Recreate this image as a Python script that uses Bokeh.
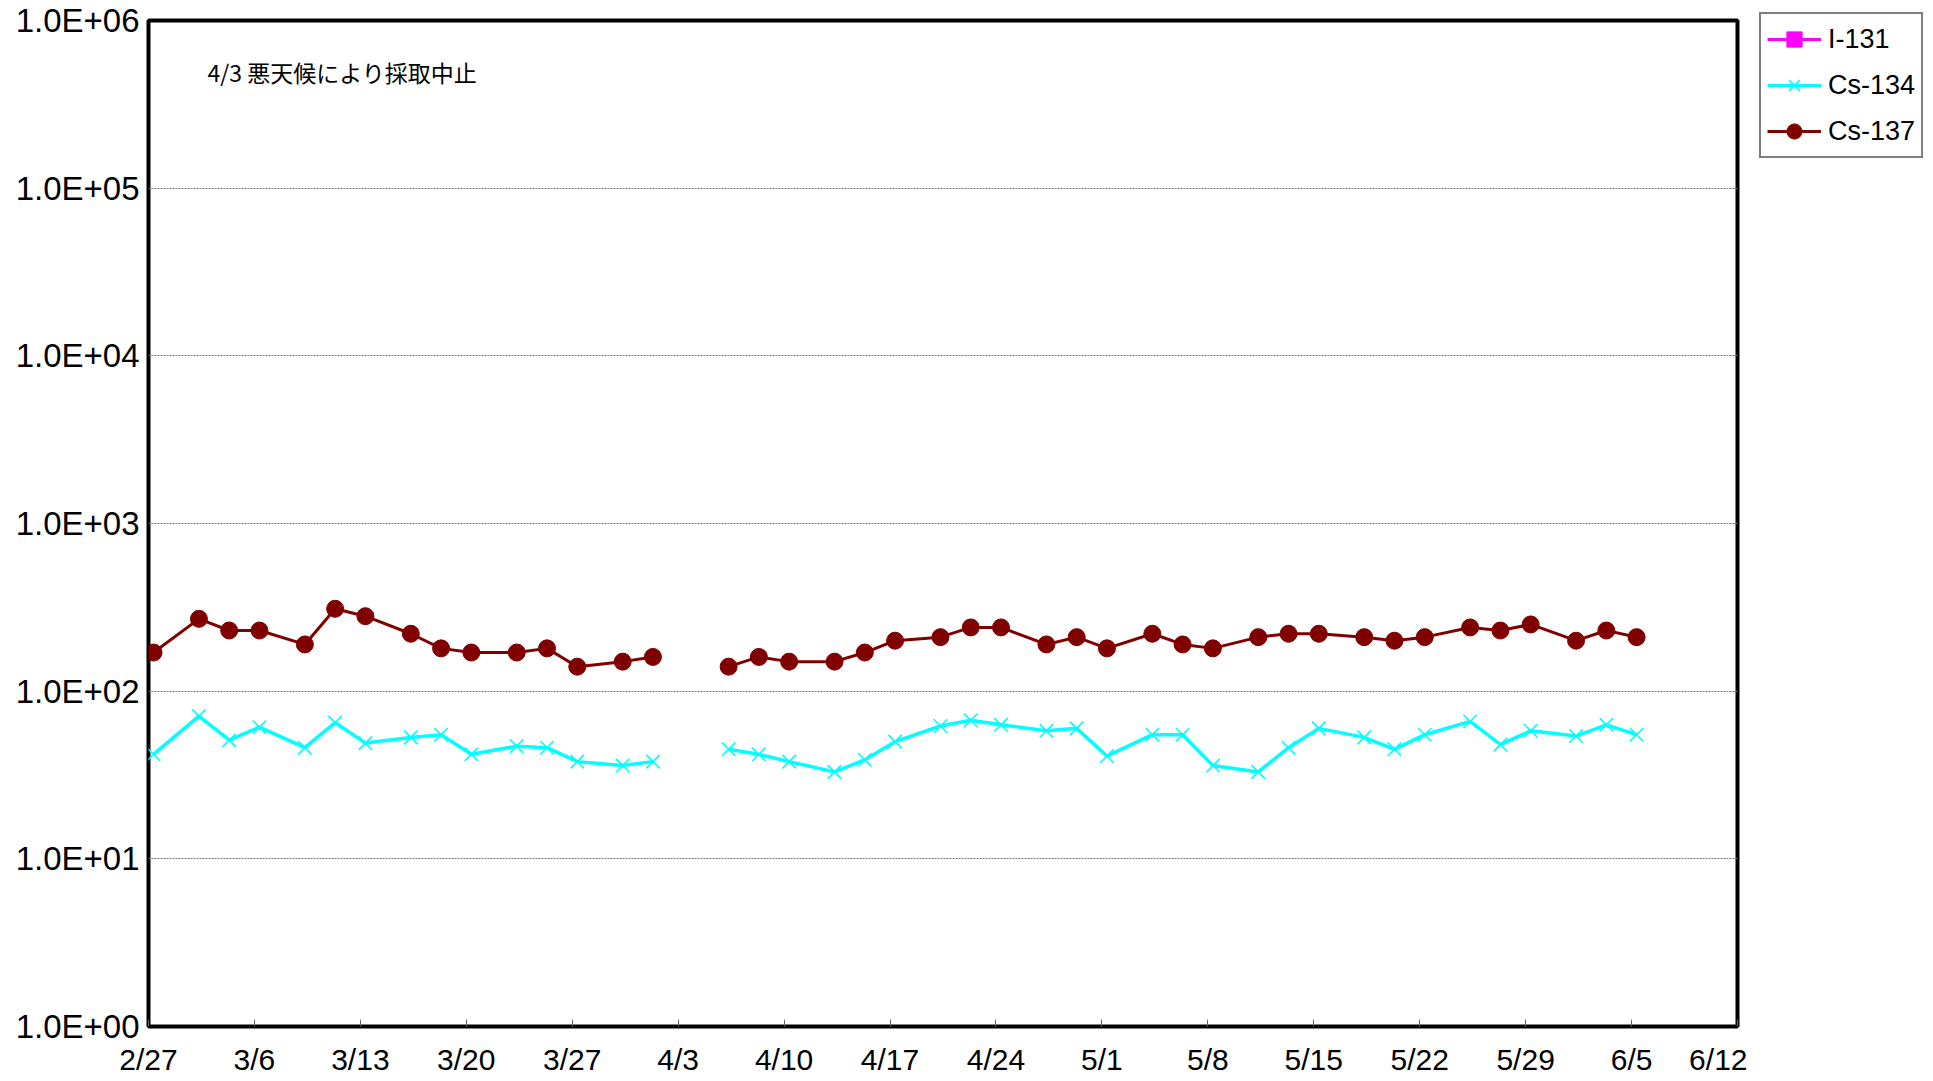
import numpy as np
import pandas as pd
from bokeh.plotting import figure
from bokeh.layouts import row, column
from bokeh.models import (FixedTicker, CustomJSTickFormatter, Legend, LegendItem,
                          Label, ColumnDataSource, Range1d)
from bokeh.embed import file_html
from bokeh.resources import INLINE

nan = np.nan
year = 2011
sample_time = "08:00"

# sampling dates (4/3: sampling cancelled due to bad weather -> no value)
sample_dates = ["2/27", "3/2", "3/4", "3/6", "3/9", "3/11", "3/13", "3/16", "3/18",
                "3/20", "3/23", "3/25", "3/27", "3/30", "4/1", "4/3", "4/6", "4/8",
                "4/10", "4/13", "4/15", "4/17", "4/20", "4/22", "4/24", "4/27", "4/29",
                "5/1", "5/4", "5/6", "5/8", "5/11", "5/13", "5/15", "5/18", "5/20",
                "5/22", "5/25", "5/27", "5/29", "6/1", "6/3", "6/5"]

i131 = [nan] * len(sample_dates)  # not detected
cs134 = [42, 71, 51, 61, 46, 65, 49, 53, 55, 42, 47, 46, 38, 36, 38, nan, 45, 42,
         38, 33, 39, 50, 62, 67, 63, 58, 60, 41, 55, 55, 36, 33, 46, 60, 53, 45,
         55, 66, 48, 58, 54, 63, 55]
cs137 = [170, 270, 230, 230, 190, 310, 280, 220, 180, 170, 170, 180, 140, 150, 160,
         nan, 140, 160, 150, 150, 170, 200, 210, 240, 240, 190, 210, 180, 220, 190,
         180, 210, 220, 220, 210, 200, 210, 240, 230, 250, 200, 230, 210]

x_tick_labels = ["2/27", "3/6", "3/13", "3/20", "3/27", "4/3", "4/10", "4/17",
                 "4/24", "5/1", "5/8", "5/15", "5/22", "5/29", "6/5", "6/12"]
y_ticks = [1, 10, 100, 1000, 10000, 100000, 1000000]
note_text = "4/3 悪天候により採取中止"

series_names = ["I-131", "Cs-134", "Cs-137"]
colors = {"I-131": "#FF00FF", "Cs-134": "#00FFFF", "Cs-137": "#800000"}

x = pd.to_datetime([f"{year}/{d} {sample_time}" for d in sample_dates], format="%Y/%m/%d %H:%M")
tick_dates = pd.to_datetime([f"{year}/{d}" for d in x_tick_labels], format="%Y/%m/%d")
tick_ms = [float(t.value // 10**6) for t in tick_dates]

src = ColumnDataSource(dict(x=x, i131=i131, cs134=cs134, cs137=cs137))

FW, FH = 1589, 1006
BT, BB = 20, 52
H = BT + FH + BB
p = figure(width=148 + FW + 10, height=H, x_axis_type="datetime",
           y_axis_type="log",
           x_range=(tick_dates[0], tick_dates[-1]), y_range=(1, 1e6),
           output_backend="svg", toolbar_location=None,
           min_border_left=148, min_border_right=10, min_border_top=BT,
           min_border_bottom=BB, background_fill_color="white",
           border_fill_color="white")

p.outline_line_color = "black"
p.outline_line_width = 4
p.outline_line_alpha = 1

# axes
p.xaxis.ticker = FixedTicker(ticks=tick_ms, minor_ticks=[])
p.xaxis.formatter = CustomJSTickFormatter(code="""
const d = new Date(tick);
return (d.getUTCMonth() + 1) + "/" + d.getUTCDate();
""")
p.yaxis.ticker = FixedTicker(ticks=y_ticks, minor_ticks=[])
p.yaxis.formatter = CustomJSTickFormatter(code="""
let s = tick.toExponential(1).toUpperCase();
const m = s.match(/E([+-])(\\d+)$/);
if (m) { s = s.replace(/E[+-]\\d+$/, "E" + m[1] + m[2].padStart(2, "0")); }
return s;
""")
for ax in (p.xaxis[0], p.yaxis[0]):
    ax.axis_line_color = None
    ax.major_label_text_font = "Liberation Sans"
    ax.major_label_text_color = "black"
    ax.minor_tick_line_color = None
p.xaxis.major_label_text_font_size = "30px"
p.yaxis.major_label_text_font_size = "33px"
p.xaxis.major_tick_in = 7
p.xaxis.major_tick_out = 0
p.xaxis.major_tick_line_color = "#666666"
p.xaxis.major_tick_line_width = 1
p.xaxis.major_label_standoff = 16
p.yaxis.major_tick_in = 0
p.yaxis.major_tick_out = 0
p.yaxis.major_tick_line_color = None
p.yaxis.major_label_standoff = 9

p.xgrid.grid_line_color = None
p.ygrid.ticker = FixedTicker(ticks=y_ticks, minor_ticks=[])
p.ygrid.grid_line_color = "#777777"
p.ygrid.grid_line_dash = "2 1"
p.ygrid.grid_line_width = 1

# series
p.line("x", "i131", source=src, line_color=colors["I-131"], line_width=3)
p.scatter("x", "i131", source=src, marker="square", size=15,
          fill_color=colors["I-131"], line_color=colors["I-131"])
p.line("x", "cs134", source=src, line_color=colors["Cs-134"], line_width=3.5)
p.scatter("x", "cs134", source=src, marker="x", size=19,
          line_color=colors["Cs-134"], line_width=1.6)
p.line("x", "cs137", source=src, line_color=colors["Cs-137"], line_width=3)
p.scatter("x", "cs137", source=src, marker="circle", size=17,
          fill_color=colors["Cs-137"], line_color=colors["Cs-137"])

note = Label(x=59, y=FH - 51.5, x_units="screen", y_units="screen", text=note_text,
             text_font="Noto Sans CJK JP", text_font_size="23px",
             text_baseline="middle", text_align="left", text_color="black")
p.add_layout(note)

# legend panel (separate small figure to the right of the plot)
lg = figure(width=178, height=H, output_backend="svg", toolbar_location=None,
            x_range=Range1d(0, 1), y_range=Range1d(0, 1),
            min_border_left=12, min_border_right=0, min_border_top=12,
            min_border_bottom=0,
            background_fill_color="white", border_fill_color="white")
lg.outline_line_color = None
lg.axis.visible = False
lg.grid.visible = False
leg_src = ColumnDataSource(dict(x=[nan], y=[nan]))
markers = {"I-131": ("square", 16, 1), "Cs-134": ("x", 19, 1.6), "Cs-137": ("circle", 19, 1)}
items = []
for name in series_names:
    c = colors[name]
    mk, sz, lw = markers[name]
    r1 = lg.line("x", "y", source=leg_src, line_color=c, line_width=3)
    r2 = lg.scatter("x", "y", source=leg_src, marker=mk, size=sz, line_width=lw,
                    fill_color=c, line_color=c)
    items.append(LegendItem(label=name, renderers=[r1, r2]))
legend = Legend(items=items, location="top_left")
legend.border_line_color = "black"
legend.border_line_width = 2
legend.background_fill_color = "white"
legend.background_fill_alpha = 1
legend.label_text_font = "Liberation Sans"
legend.label_text_font_size = "27px"
legend.label_text_color = "black"
legend.glyph_width = 54
legend.glyph_height = 38
legend.label_height = 38
legend.label_standoff = 7
legend.spacing = 8
legend.padding = 6
legend.margin = 0
lg.add_layout(legend)

layout = row(p, column(lg), spacing=0)
open("out.html", "w").write(file_html(layout, INLINE))
